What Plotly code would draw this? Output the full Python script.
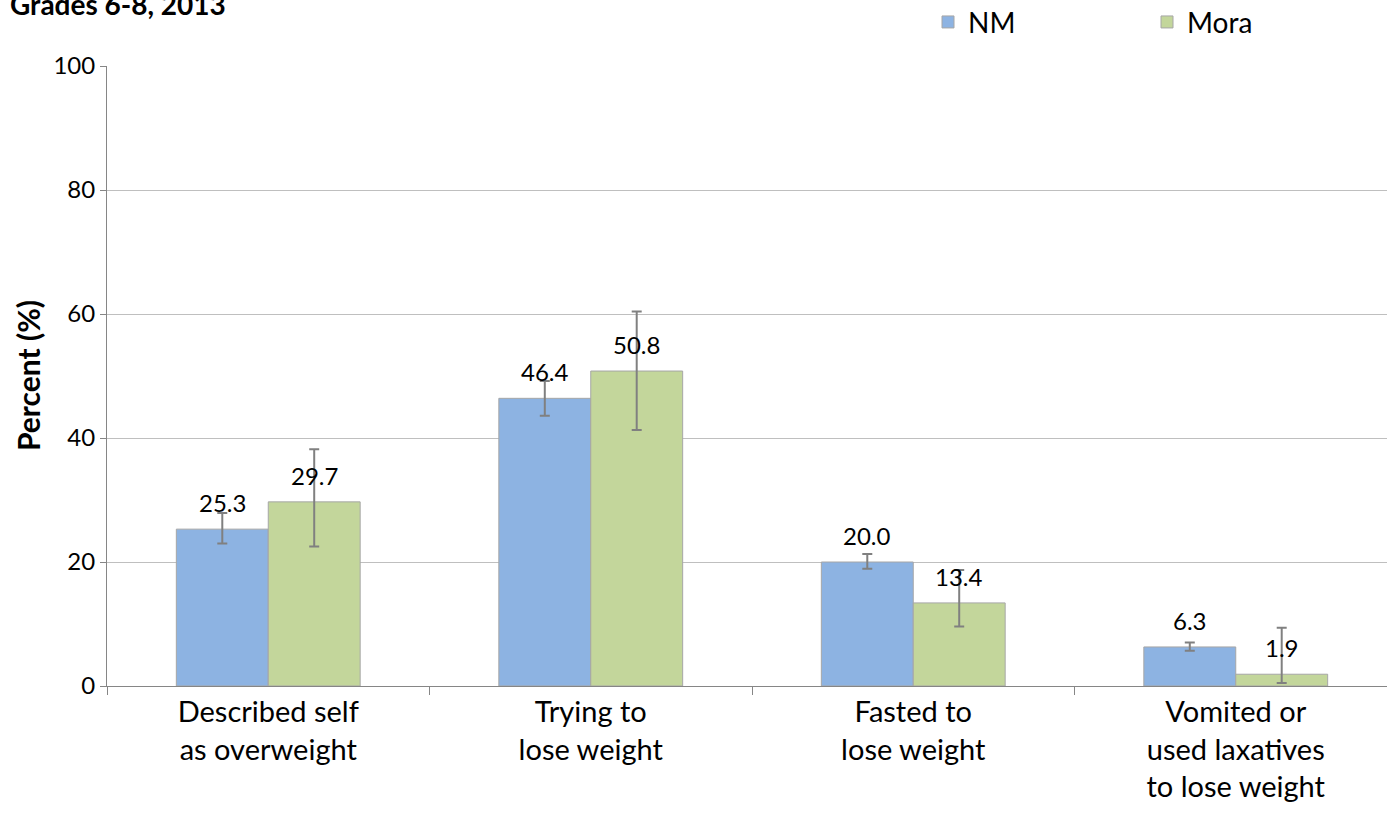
import plotly.graph_objects as go

categories = ["Described self<br>as overweight", "Trying to<br>lose weight",
              "Fasted to<br>lose weight", "Vomited or<br>used laxatives<br>to lose weight"]
nm_values = [25.3, 46.4, 20.0, 6.3]
nm_upper = [27.9, 49.2, 21.3, 7.0]
nm_lower = [23.0, 43.6, 18.9, 5.7]
mora_values = [29.7, 50.8, 13.4, 1.9]
mora_upper = [38.2, 60.4, 18.7, 9.4]
mora_lower = [22.5, 41.3, 9.6, 0.5]

FONT = "Lato"
series = [
    ("NM", nm_values, nm_upper, nm_lower, "#8DB3E2", -0.1425),
    ("Mora", mora_values, mora_upper, mora_lower, "#C3D69B", 0.1425),
]

fig = go.Figure()
for name, vals, up, lo, color, off in series:
    fig.add_trace(go.Bar(
        x=categories, y=vals, name=name,
        marker=dict(color=color, line=dict(color="#A6A6A6", width=1)),
        error_y=dict(type="data", symmetric=False,
                     array=[u - v for u, v in zip(up, vals)],
                     arrayminus=[v - l for v, l in zip(vals, lo)],
                     color="#808080", thickness=2, width=5),
    ))

# value labels sit a little above each bar
annotations = []
for name, vals, up, lo, color, off in series:
    for i, v in enumerate(vals):
        annotations.append(dict(
            x=i + off, y=v, xref="x", yref="y", text=f"{v:.1f}",
            showarrow=False, yanchor="bottom", yshift=10,
            font=dict(family=FONT, size=24, color="#000000"),
        ))

annotations.append(dict(
    x=-0.0767, y=1.1, xref="paper", yref="paper", text="<b>Grades 6-8, 2013</b>",
    showarrow=False, xanchor="left", yanchor="middle",
    font=dict(family=FONT, size=28, color="#000000"),
))
annotations.append(dict(
    x=-0.0612, y=0.5, xref="paper", yref="paper", text="<b>Percent (%)</b>",
    showarrow=False, xanchor="center", yanchor="middle", textangle=-90,
    font=dict(family=FONT, size=30, color="#000000"),
))

# the original chart runs a little past the right edge of the window
fig.update_layout(
    width=1398, height=824,
    paper_bgcolor="white", plot_bgcolor="white",
    margin=dict(l=107, r=1, t=66, b=138, autoexpand=False),
    barmode="group", bargap=0.43, bargroupgap=0,
    font=dict(family=FONT, size=22, color="#000000"),
    showlegend=True,
    legend=dict(orientation="h", xref="container", yref="container",
                x=928 / 1398, y=0.973, xanchor="left", yanchor="middle",
                entrywidth=174, font=dict(family=FONT, size=28),
                bgcolor="rgba(0,0,0,0)"),
    annotations=annotations,
    xaxis=dict(showline=True, linecolor="#868686", linewidth=1,
               ticks="outside", tickson="boundaries", ticklen=8, tickcolor="#868686",
               tickfont=dict(family=FONT, size=29), showgrid=False, automargin=False),
    yaxis=dict(range=[0, 100], dtick=20, showline=True, linecolor="#868686", linewidth=1,
               ticks="outside", ticklen=6, tickcolor="#868686",
               gridcolor="#BFBFBF", gridwidth=1, zeroline=False, automargin=False,
               tickfont=dict(family=FONT, size=24)),
)

# drop the default 8px page margin and hide the overflow on the right
fig.write_html("out.html", config={"displayModeBar": False},
               post_script="document.body.style.margin='0';document.body.style.overflow='hidden';")
